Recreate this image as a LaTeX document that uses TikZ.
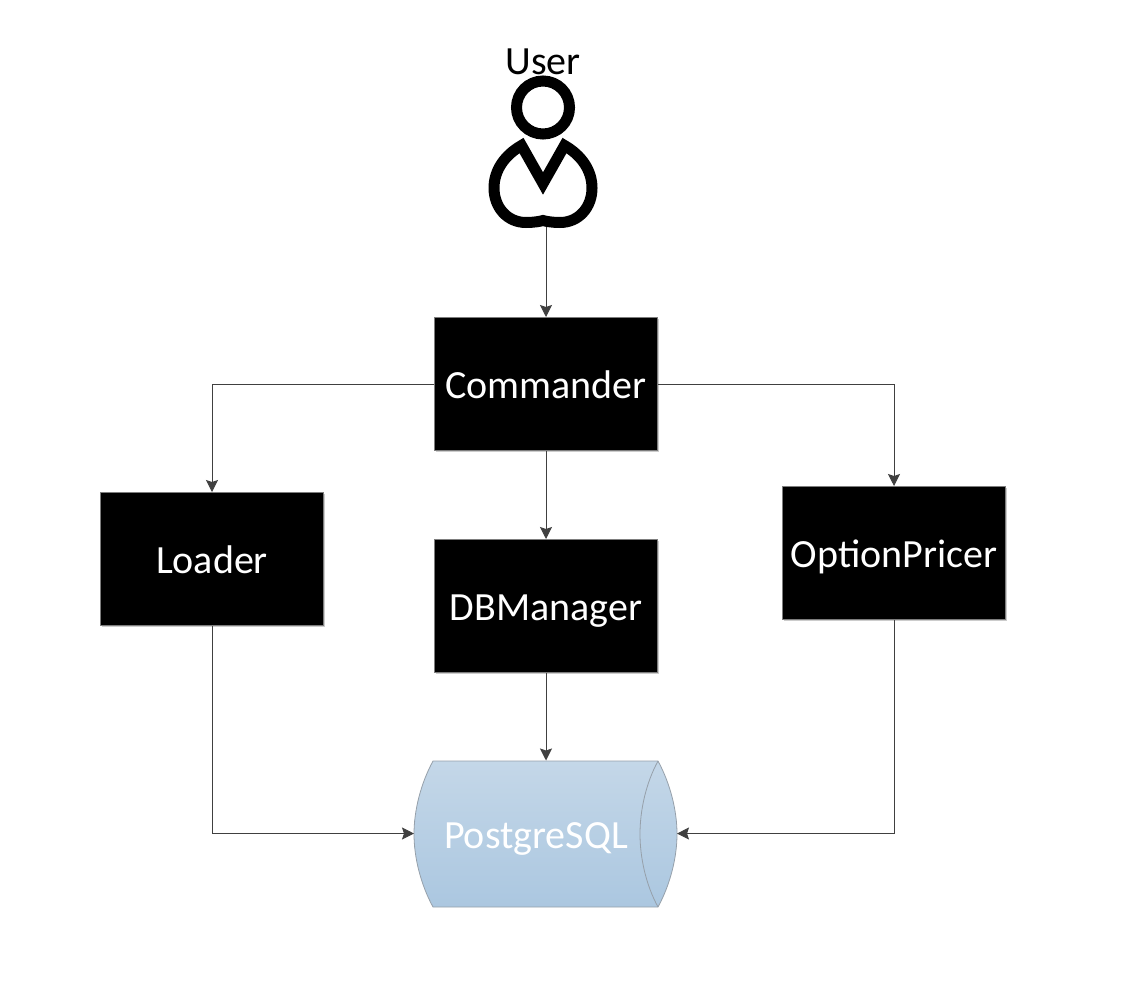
\documentclass[tikz,border=0pt]{standalone}
\usepackage{fontspec}
\setmainfont{Carlito}
\usetikzlibrary{arrows.meta,shadows}
\definecolor{linegrey}{RGB}{64,64,64}
\definecolor{edgegrey}{RGB}{125,125,125}
\definecolor{cyltop}{RGB}{196,215,232}
\definecolor{cylbottom}{RGB}{171,199,224}
\definecolor{cyledge}{RGB}{150,160,170}
\tikzset{
	every picture/.style={line width=0.75pt},
	modulebox/.style={draw=edgegrey,fill=black,text=white,minimum width=167.25pt,minimum height=99.75pt,inner sep=0pt,text height=21pt,text depth=0pt,font=\fontsize{30}{36}\selectfont,
		general shadow={shadow xshift=1.2pt,shadow yshift=-1.2pt,fill=black,opacity=0.2}},
	flowline/.style={draw=linegrey,-{Stealth[length=9pt,width=9pt,inset=1.5pt]}},
	iconline/.style={line width=8.25pt,miter limit=10}
}
\begin{document}
\begin{tikzpicture}[x=0.75pt,y=0.75pt,yscale=-1,xscale=1]
	\useasboundingbox (0,0) rectangle (1123,1003);

	%User icon
	\draw [iconline] (543,107.5) circle [radius=26.5];
	\draw [iconline,line join=miter] (543,183.5) -- (521.5,145.5) .. controls (505,155) and (494,170) .. (494,188) .. controls (494,207) and (507,222.5) .. (526,222.5) .. controls (533,222.5) and (540,221.5) .. (543,220.5) .. controls (546,221.5) and (553,222.5) .. (560,222.5) .. controls (579,222.5) and (592,207) .. (592,188) .. controls (592,170) and (581,155) .. (564.5,145.5) -- cycle;

	%Database shape
	\draw [draw=cyledge,line width=0.6pt,top color=cyltop,bottom color=cylbottom] (433,761) -- (658,761) .. controls (670,783) and (677,810) .. (677,834) .. controls (677,858) and (670,885) .. (658,907) -- (433,907) .. controls (421,885) and (414,858) .. (414,834) .. controls (414,810) and (421,783) .. (433,761) -- cycle;
	\draw [draw=cyledge,line width=0.6pt] (658,761) .. controls (646,783) and (640,810) .. (640,834) .. controls (640,858) and (646,885) .. (658,907);

	% Text Node
	\node (userlabel) at (543,62) [inner sep=0pt,font=\fontsize{30}{36}\selectfont] {User};
	\coordinate (userfoot) at (546,227);
	\node (commander) at (546,384) [modulebox] {Commander};
	\node (loader) at (212,559) [modulebox] {Loader};
	\node (dbmanager) at (546,606) [modulebox] {DBManager};
	\node (optionpricer) at (894,553) [modulebox] {OptionPricer};
	\node (postgres) at (545.5,833.5) [minimum width=197.25pt,minimum height=109.5pt,inner sep=0pt,outer sep=0pt] {};
	\node (postgreslabel) at (536,834) [inner sep=0pt,text=white,text height=21pt,text depth=0pt,font=\fontsize{30}{36}\selectfont] {PostgreSQL};

	%Connectors
	\draw [flowline] (userfoot) -- (commander.north);
	\draw [flowline] (commander.west) -| (loader.north);
	\draw [flowline] (commander.south) -- (dbmanager.north);
	\draw [flowline] (commander.east) -| (optionpricer.north);
	\draw [flowline] (loader.south) |- (postgres.west);
	\draw [flowline] (dbmanager.south) -- (postgres.north -| dbmanager.south);
	\draw [flowline] (optionpricer.south) |- (postgres.east);
\end{tikzpicture}
\end{document}
